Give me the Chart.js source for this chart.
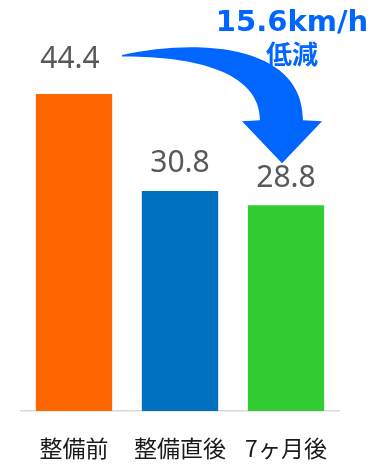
<!DOCTYPE html>
<html>
<head>
<meta charset="utf-8">
<script src="https://cdn.jsdelivr.net/npm/chart.js@4/dist/chart.umd.min.js"></script>
<style>
  html, body { margin: 0; padding: 0; background: #fff; }
</style>
</head>
<body>
<canvas id="speed" width="385" height="465"></canvas>
<script>
const phases = ["整備前", "整備直後", "7ヶ月後"];
const speeds = [44.4, 30.8, 28.8];
const barColors = ["#ff6600", "#0070c0", "#33cc33"];
const dropValue = "15.6";
const dropUnit = "km/h";
const dropWord = "低減";

const arrowBlue = "#0066ff";

// value above each bar
const valueLabels = {
    id: "valueLabels",
    afterDatasetsDraw(chart, args, opts) {
        const ctx = chart.ctx;
        const meta = chart.getDatasetMeta(0);
        ctx.save();
        ctx.fillStyle = "#595959";
        ctx.font = "30px 'Noto Sans', sans-serif";
        ctx.textAlign = "center";
        ctx.textBaseline = "alphabetic";
        meta.data.forEach((bar, i) => {
            ctx.fillText(speeds[i].toFixed(1), bar.x - (opts.shift[i] || 0), bar.y - opts.gap[i]);
        });
        ctx.restore();
    }
};

// curved arrow from the first bar to the last one, with the drop text
const dropArrow = {
    id: "dropArrow",
    afterDatasetsDraw(chart) {
        const ctx = chart.ctx;
        const meta = chart.getDatasetMeta(0);
        const first = meta.data[0];
        const last = meta.data[meta.data.length - 1];
        const sx = first.x + 48, sy = first.y - 39;
        const tx = last.x - 4, ty = last.y - 42;
        const p = (fx, fy) => [sx + fx * (tx - sx), sy + fy * (ty - sy)];

        ctx.save();
        ctx.fillStyle = arrowBlue;
        ctx.beginPath();
        ctx.moveTo(sx, sy);
        ctx.bezierCurveTo(...p(0.4875, -0.157), ...p(1.131, -0.093), ...p(1.131, 0.602));
        ctx.lineTo(...p(1.25, 0.611));
        ctx.lineTo(tx, ty);
        ctx.lineTo(...p(0.75, 0.611));
        ctx.lineTo(...p(0.8625, 0.602));
        ctx.bezierCurveTo(...p(0.8625, 0.139), ...p(0.425, 0.009), sx, sy + 1.5);
        ctx.closePath();
        ctx.fill();

        // "15.6km/h" on one line above the arrow head
        const cx = last.x + 6;
        ctx.textBaseline = "alphabetic";
        ctx.textAlign = "center";
        ctx.font = "bold 29px 'DejaVu Sans', sans-serif";
        ctx.fillText(dropValue + dropUnit, cx, 31);

        ctx.font = "bold 26px 'Noto Sans CJK JP', sans-serif";
        ctx.fillText(dropWord, cx, 64);
        ctx.restore();
    }
};

new Chart(document.getElementById("speed"), {
    type: "bar",
    data: {
        labels: phases,
        datasets: [{
            data: speeds,
            backgroundColor: barColors,
            barPercentage: 0.72,
            categoryPercentage: 1.0
        }]
    },
    options: {
        responsive: false,
        animation: false,
        layout: {
            padding: { left: 21, right: 46, top: 54, bottom: 0 }
        },
        plugins: {
            legend: { display: false },
            tooltip: { enabled: false },
            valueLabels: { gap: [26, 19, 18], shift: [4, 0, 0] }
        },
        scales: {
            x: {
                grid: { display: false, drawTicks: false },
                border: { color: "#d9d9d9", width: 1.5 },
                ticks: {
                    color: "#1a1a1a",
                    padding: 23,
                    font: { family: "'Noto Sans CJK JP', sans-serif", size: 23 }
                },
                afterFit(scale) {
                    scale.height = 54;
                }
            },
            y: {
                display: false,
                min: 0,
                max: 50
            }
        }
    },
    plugins: [valueLabels, dropArrow]
});
</script>
</body>
</html>
